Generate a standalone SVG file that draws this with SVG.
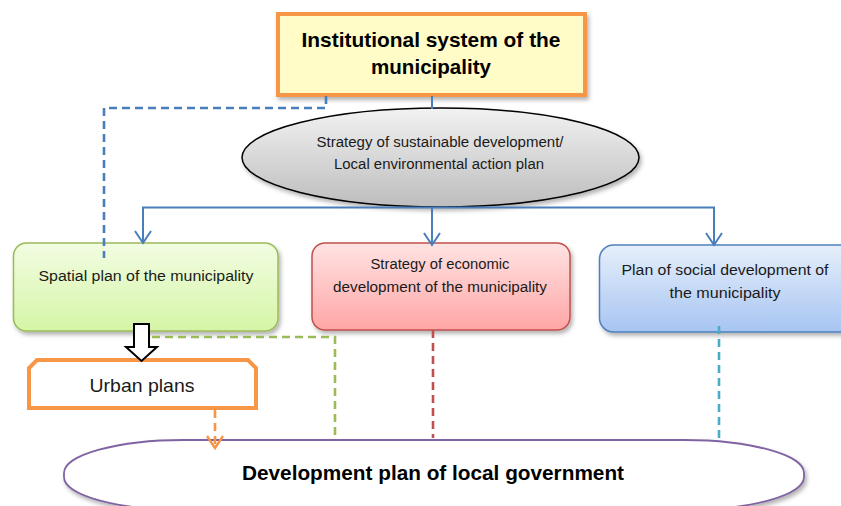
<svg xmlns="http://www.w3.org/2000/svg" width="841" height="506" viewBox="0 0 841 506">
<defs>
<style>
.t{font-family:"Liberation Sans",Arial,sans-serif;fill:#1a1a1a;text-anchor:middle}
.b{font-weight:bold;fill:#000}
.bl{stroke:#4A7EBB;stroke-width:2;fill:none}
.dash{stroke-width:2.6;fill:none;stroke-dasharray:8,5}
.ah{fill:none;stroke:#4A7EBB;stroke-width:2}
</style>
<linearGradient id="gGray" x1="0" y1="0" x2="0" y2="1"><stop offset="0" stop-color="#f2f2f2"/><stop offset="1" stop-color="#bdbdbd"/></linearGradient>
<linearGradient id="gGreen" x1="0" y1="0" x2="0" y2="1"><stop offset="0" stop-color="#f2fde2"/><stop offset="1" stop-color="#d5f5a6"/></linearGradient>
<linearGradient id="gRed" x1="0" y1="0" x2="0" y2="1"><stop offset="0" stop-color="#ffe3e3"/><stop offset="1" stop-color="#ffa6a6"/></linearGradient>
<linearGradient id="gBlue" x1="0" y1="0" x2="0" y2="1"><stop offset="0" stop-color="#e6effb"/><stop offset="1" stop-color="#a7c5f2"/></linearGradient>
<filter id="sh" x="-10%" y="-10%" width="120%" height="130%"><feDropShadow dx="2" dy="3" stdDeviation="2" flood-color="#000" flood-opacity="0.3"/></filter>
</defs>

<g id="n-institutional">
<rect x="278" y="14" width="307" height="81" fill="#FFFCC8" stroke="#F79646" stroke-width="4" filter="url(#sh)"/>
<text class="t b" x="431" y="47" font-size="21" textLength="259" lengthAdjust="spacingAndGlyphs">Institutional system of the</text>
<text class="t b" x="431" y="74" font-size="21" textLength="120" lengthAdjust="spacingAndGlyphs">municipality</text>
</g>

<g id="n-strategy">
<ellipse cx="440.5" cy="157.5" rx="198.5" ry="49.5" fill="url(#gGray)" stroke="#000" stroke-width="1.5" filter="url(#sh)"/>
<text class="t" x="440" y="147" font-size="14" textLength="247" lengthAdjust="spacingAndGlyphs">Strategy of sustainable development/</text>
<text class="t" x="439" y="169" font-size="14" textLength="210" lengthAdjust="spacingAndGlyphs">Local environmental action plan</text>
</g>

<g id="n-spatial">
<rect x="13.5" y="243" width="264.5" height="88" rx="13" fill="url(#gGreen)" stroke="#9BBB59" stroke-width="1.5" filter="url(#sh)"/>
<text class="t" x="146" y="281" font-size="14" textLength="215" lengthAdjust="spacingAndGlyphs">Spatial plan of the municipality</text>
</g>

<g id="n-economic">
<rect x="312" y="243" width="258" height="87" rx="13" fill="url(#gRed)" stroke="#C0504D" stroke-width="1.5" filter="url(#sh)"/>
<text class="t" x="440" y="269" font-size="14" textLength="139" lengthAdjust="spacingAndGlyphs">Strategy of economic</text>
<text class="t" x="440" y="292" font-size="14" textLength="214" lengthAdjust="spacingAndGlyphs">development of the municipality</text>
</g>

<g id="n-social">
<rect x="599.5" y="245" width="260" height="87" rx="14" fill="url(#gBlue)" stroke="#4F81BD" stroke-width="1.5" filter="url(#sh)"/>
<text class="t" x="725" y="275" font-size="14" textLength="207" lengthAdjust="spacingAndGlyphs">Plan of social development of</text>
<text class="t" x="725" y="298" font-size="14" textLength="111" lengthAdjust="spacingAndGlyphs">the municipality</text>
</g>

<g id="n-urban">
<path d="M37,360 H248 L256,368 V408 H29 V368 Z" fill="#fff" stroke="#F79646" stroke-width="4"/>
<text class="t" x="142" y="392" font-size="19" textLength="105" lengthAdjust="spacingAndGlyphs" fill="#000">Urban plans</text>
</g>

<g id="n-development">
<rect x="64" y="440" width="740" height="70" rx="120" ry="33" fill="#fff" stroke="#8064A2" stroke-width="1.8" filter="url(#sh)"/>
<text class="t b" x="433" y="480" font-size="20" textLength="382" lengthAdjust="spacingAndGlyphs">Development plan of local government</text>
</g>

<g id="connectors">
<path class="dash" stroke="#4A7EBB" d="M326,96 V108 H104 V258"/>
<line class="bl" x1="432" y1="96" x2="432" y2="109"/>
<line class="bl" x1="432" y1="208" x2="432" y2="245"/>
<path class="ah" d="M424,233 L432,245 L440,233"/>
<path class="bl" d="M143,243 V207.5 H714 V245"/>
<path class="ah" d="M135,231 L143,243 L151,231"/>
<path class="ah" d="M706,233 L714,245 L722,233"/>
<path class="dash" stroke="#9BBB59" d="M152,337 H335 V440"/>
<line class="dash" stroke="#C0504D" x1="433" y1="330" x2="433" y2="438"/>
<line class="dash" stroke="#4BACC6" x1="719" y1="326" x2="719" y2="438"/>
<line class="dash" stroke="#F79646" x1="215" y1="410" x2="215" y2="446"/>
<path d="M207,436 L215,448 L223,436" fill="none" stroke="#F79646" stroke-width="2.4"/>
<path d="M134,324 H149 V347 H157 L141.5,361 L126,347 H134 Z" fill="#fff" stroke="#000" stroke-width="2"/>
</g>
</svg>
